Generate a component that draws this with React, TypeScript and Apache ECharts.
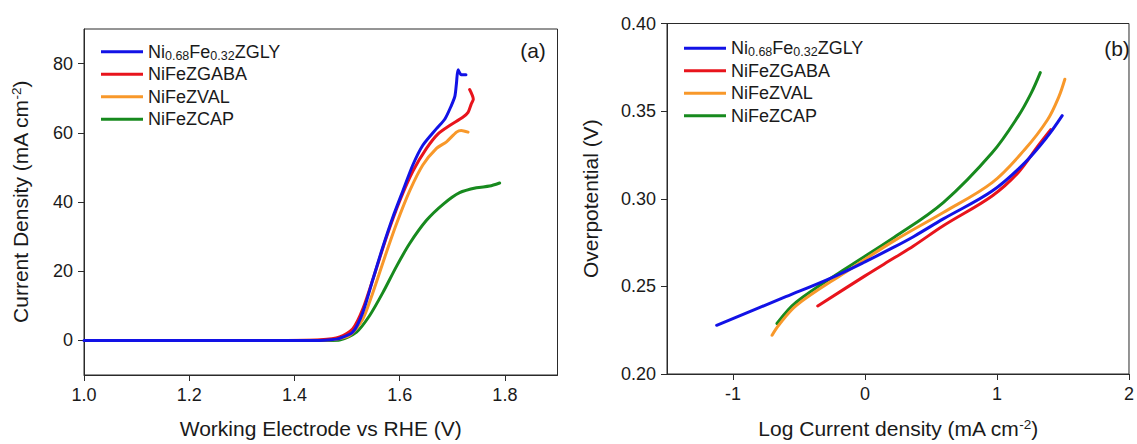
import React, { useEffect, useRef } from "react";
import * as echarts from "echarts";

// ---------- data ----------
const seriesNames = ["Ni0.68Fe0.32ZGLY", "NiFeZGABA", "NiFeZVAL", "NiFeZCAP"];

// (a) LSV: potential (V vs RHE) and current density (mA cm^-2)
const lsvBlueV = [1.0, 1.2, 1.4, 1.448, 1.47, 1.486, 1.511, 1.53, 1.549, 1.568, 1.587, 1.606, 1.625, 1.644, 1.67, 1.686, 1.698, 1.705, 1.708, 1.711, 1.717, 1.726];
const lsvBlueJ = [0, 0, 0, 0, 0.2, 0.6, 2.4, 8.1, 17.6, 27, 35.6, 43.2, 50.7, 56.4, 61.2, 64, 67.8, 70.6, 74.4, 78.2, 76.8, 76.8];

const lsvRedV = [1.37, 1.45, 1.486, 1.511, 1.53, 1.553, 1.575, 1.6, 1.625, 1.651, 1.673, 1.695, 1.72, 1.73, 1.736, 1.74, 1.733];
const lsvRedJ = [0, 0.2, 1, 3.4, 9.1, 19.5, 29.9, 40.3, 48.9, 55.5, 59.7, 62.1, 64.5, 65.9, 68.3, 69.7, 72.5];

const lsvOrangeV = [1.37, 1.47, 1.505, 1.53, 1.549, 1.572, 1.594, 1.619, 1.644, 1.67, 1.689, 1.708, 1.717, 1.73];
const lsvOrangeJ = [0, 0.2, 1.5, 6.2, 13.8, 24.2, 33.7, 43.2, 50.7, 55.5, 57.4, 60.2, 60.7, 60.2];

const lsvGreenV = [1.37, 1.47, 1.486, 1.518, 1.543, 1.568, 1.594, 1.619, 1.651, 1.683, 1.714, 1.746, 1.771, 1.79];
const lsvGreenJ = [0, 0, 0.1, 2.4, 7.2, 13.8, 21.4, 28, 34.7, 39.4, 42.7, 44.1, 44.6, 45.5];

// (b) Tafel: log current density and overpotential (V)
const tafelBlueLogJ = [-1.124, -0.6, -0.272, 0, 0.222, 0.37, 0.593, 0.963, 1.21, 1.383, 1.494];
const tafelBlueEta = [0.2278, 0.2441, 0.2543, 0.264, 0.2725, 0.2785, 0.2885, 0.3044, 0.3205, 0.3356, 0.3474];

const tafelRedLogJ = [-0.358, 0, 0.222, 0.37, 0.593, 0.963, 1.16, 1.309, 1.407];
const tafelRedEta = [0.2388, 0.256, 0.2663, 0.2732, 0.2846, 0.3016, 0.3149, 0.33, 0.3394];

const tafelOrangeLogJ = [-0.704, -0.654, -0.519, -0.148, 0.222, 0.593, 0.963, 1.21, 1.383, 1.469, 1.514];
const tafelOrangeEta = [0.2221, 0.2278, 0.2392, 0.2581, 0.2761, 0.2922, 0.3092, 0.3281, 0.3451, 0.3583, 0.3682];

const tafelGreenLogJ = [-0.667, -0.519, -0.148, 0.222, 0.593, 0.963, 1.16, 1.259, 1.328];
const tafelGreenEta = [0.2288, 0.2411, 0.26, 0.278, 0.2978, 0.3262, 0.347, 0.3603, 0.372];

const lsvXTicks = [1.0, 1.2, 1.4, 1.6, 1.8];
const lsvYTicks = [0, 20, 40, 60, 80];
const tafelXTicks = [-1, 0, 1, 2];
const tafelYTicks = [0.2, 0.25, 0.3, 0.35, 0.4];

// ---------- styles ----------
const FONT = "'Liberation Sans', Arial, Helvetica, sans-serif";
const TEXT = "#1a1a1a";
const AXIS = "#2a2a2a";
const colorOf: Record<string, string> = {
  "Ni0.68Fe0.32ZGLY": "#1212e6",
  NiFeZGABA: "#e8141c",
  NiFeZVAL: "#f8982a",
  NiFeZCAP: "#178a1e",
};

const zip = (xs: number[], ys: number[]) => xs.map((x, i) => [x, ys[i]]);

const legendFormatter = (name: string) =>
  name === "Ni0.68Fe0.32ZGLY" ? "Ni{sub|0.68}Fe{sub|0.32}ZGLY" : name;

function makeLegend(left: number, top: number) {
  return {
    orient: "vertical",
    left,
    top,
    padding: 0,
    itemGap: 2,
    itemWidth: 42,
    itemHeight: 3,
    icon: "rect",
    data: seriesNames,
    formatter: legendFormatter,
    textStyle: {
      fontSize: 18,
      color: TEXT,
      fontFamily: FONT,
      lineHeight: 20.5,
      rich: {
        sub: { fontSize: 12.5, color: TEXT, fontFamily: FONT, lineHeight: 12, verticalAlign: "bottom" },
      },
    },
  };
}

function valueAxis(opts: any) {
  const { ticks, fmt, ...rest } = opts;
  return {
    type: "value",
    axisLine: { show: true, onZero: false, lineStyle: { color: AXIS, width: 1 } },
    axisTick: { show: true, inside: false, length: 6, lineStyle: { color: AXIS }, customValues: ticks },
    axisLabel: { customValues: ticks, formatter: fmt, fontSize: 18, color: TEXT, fontFamily: FONT, margin: 11 },
    splitLine: { show: false },
    nameLocation: "middle",
    nameTextStyle: {
      fontSize: 21,
      color: TEXT,
      fontFamily: FONT,
      lineHeight: 22,
      rich: {
        sup: { fontSize: 13.5, color: TEXT, fontFamily: FONT, lineHeight: 13, verticalAlign: "top" },
      },
    },
    ...rest,
  };
}

export default function App() {
  const ref = useRef<HTMLDivElement>(null);

  useEffect(() => {
    if (!ref.current) return;
    const chart = echarts.init(ref.current, undefined, { renderer: "svg" });

    const lsvSets: [string, number[], number[]][] = [
      ["NiFeZCAP", lsvGreenV, lsvGreenJ],
      ["NiFeZVAL", lsvOrangeV, lsvOrangeJ],
      ["NiFeZGABA", lsvRedV, lsvRedJ],
      ["Ni0.68Fe0.32ZGLY", lsvBlueV, lsvBlueJ],
    ];
    const tafelSets: [string, number[], number[]][] = [
      ["NiFeZCAP", tafelGreenLogJ, tafelGreenEta],
      ["NiFeZVAL", tafelOrangeLogJ, tafelOrangeEta],
      ["NiFeZGABA", tafelRedLogJ, tafelRedEta],
      ["Ni0.68Fe0.32ZGLY", tafelBlueLogJ, tafelBlueEta],
    ];

    const mkSeries = (sets: [string, number[], number[]][], idx: number, smooth: number) =>
      sets.map(([name, xs, ys]) => ({
        type: "line",
        name,
        xAxisIndex: idx,
        yAxisIndex: idx,
        data: zip(xs, ys),
        showSymbol: false,
        symbol: "none",
        smooth,
        lineStyle: { width: 3, color: colorOf[name], cap: "round", join: "round" },
        itemStyle: { color: colorOf[name] },
      }));

    chart.setOption({
      animation: false,
      backgroundColor: "#ffffff",
      grid: [
        { left: 84, top: 29, width: 473.5, height: 351.5, show: true, borderColor: AXIS, borderWidth: 1, backgroundColor: "transparent" },
        { left: 667, top: 23.5, width: 473, height: 352, show: true, borderColor: AXIS, borderWidth: 1, backgroundColor: "transparent" },
      ],
      xAxis: [
        valueAxis({
          gridIndex: 0,
          min: 1.0,
          max: 1.9,
          ticks: lsvXTicks,
          fmt: (v: number) => v.toFixed(1),
          name: "Working Electrode vs RHE (V)",
          nameGap: 42,
        }),
        valueAxis({
          gridIndex: 1,
          min: -1.5,
          max: 2,
          ticks: tafelXTicks,
          fmt: (v: number) => String(Math.round(v)),
          name: "Log Current density (mA cm{sup|-2})",
          nameGap: 43,
        }),
      ],
      yAxis: [
        valueAxis({
          gridIndex: 0,
          min: -10,
          max: 90,
          ticks: lsvYTicks,
          fmt: (v: number) => String(Math.round(v)),
          name: "Current Density (mA cm{sup|-2})",
          nameGap: 53,
        }),
        valueAxis({
          gridIndex: 1,
          min: 0.2,
          max: 0.4,
          ticks: tafelYTicks,
          fmt: (v: number) => v.toFixed(2),
          name: "Overpotential (V)",
          nameGap: 66,
        }),
      ],
      legend: [makeLegend(101, 41.5), makeLegend(684, 38)],
      graphic: [
        { type: "text", x: 533, y: 50, style: { text: "(a)", fontSize: 21, fontFamily: FONT, fill: TEXT, align: "center", verticalAlign: "middle" } },
        { type: "text", x: 1117, y: 48, style: { text: "(b)", fontSize: 21, fontFamily: FONT, fill: TEXT, align: "center", verticalAlign: "middle" } },
      ],
      series: [...mkSeries(lsvSets, 0, 0.25), ...mkSeries(tafelSets, 1, 0.35)],
    });

    return () => chart.dispose();
  }, []);

  return (
    <div
      ref={ref}
      style={{ position: "fixed", left: 0, top: 0, width: 1137, height: 444, background: "#fff" }}
    />
  );
}
